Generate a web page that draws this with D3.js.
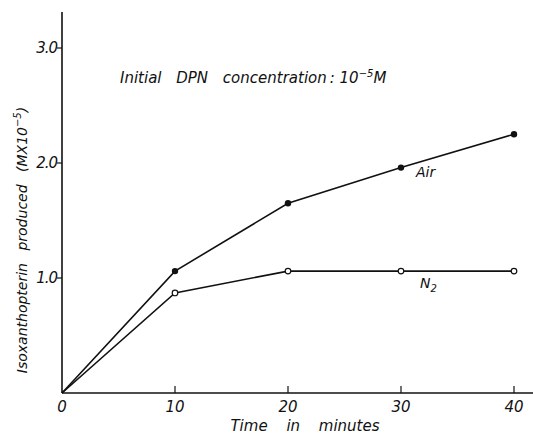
<!DOCTYPE html>
<html>
<head>
<meta charset="utf-8">
<script src="https://cdn.jsdelivr.net/npm/d3@7"></script>
<style>
  body { margin: 0; background: #fff; }
  text { font-family: "DejaVu Sans", sans-serif; font-style: italic; fill: #111; }
</style>
</head>
<body>
<svg id="chart" width="533" height="438"></svg>
<script>
// data
const times = [0, 10, 20, 30, 40];
const airValues = [0, 1.06, 1.65, 1.96, 2.25];
const n2Values = [0, 0.87, 1.06, 1.06, 1.06];
const xTicks = [0, 10, 20, 30, 40];
const yTicks = [1.0, 2.0, 3.0];

const svg = d3.select('#chart');
const x = d3.scaleLinear().domain([0, 40]).range([62, 514]);
const y = d3.scaleLinear().domain([0, 3]).range([393, 48]);

// axes lines
svg.append('line').attr('x1', 62).attr('x2', 533).attr('y1', y(0)).attr('y2', y(0))
  .attr('stroke', '#111').attr('stroke-width', 1.4);
svg.append('line').attr('x1', 62).attr('x2', 62).attr('y1', 12).attr('y2', y(0))
  .attr('stroke', '#111').attr('stroke-width', 1.6);

// x ticks (pointing up)
svg.selectAll('.xt').data(xTicks.filter(d => d > 0)).join('line')
  .attr('x1', d => x(d)).attr('x2', d => x(d))
  .attr('y1', y(0)).attr('y2', y(0) - 7)
  .attr('stroke', '#111').attr('stroke-width', 1.2);
svg.selectAll('.xl').data(xTicks).join('text')
  .attr('x', d => x(d)).attr('y', 412)
  .attr('text-anchor', 'middle').attr('font-size', 15)
  .text(d => d);

// y ticks (pointing left)
svg.selectAll('.yt').data(yTicks).join('line')
  .attr('x1', 57).attr('x2', 62)
  .attr('y1', d => y(d)).attr('y2', d => y(d))
  .attr('stroke', '#111').attr('stroke-width', 1.2);
svg.selectAll('.yl').data(yTicks).join('text')
  .attr('x', 57).attr('y', d => y(d) + 5)
  .attr('text-anchor', 'end').attr('font-size', 15)
  .attr('letter-spacing', -1)
  .text(d => d.toFixed(1));

// lines
const line = d3.line().x((d, i) => x(times[i])).y(d => y(d));
svg.append('path').datum(airValues).attr('d', line)
  .attr('fill', 'none').attr('stroke', '#111').attr('stroke-width', 1.6);
svg.append('path').datum(n2Values).attr('d', line)
  .attr('fill', 'none').attr('stroke', '#111').attr('stroke-width', 1.6);

// markers (skip origin)
svg.selectAll('.air').data(airValues.slice(1)).join('circle')
  .attr('cx', (d, i) => x(times[i + 1])).attr('cy', d => y(d)).attr('r', 3.2)
  .attr('fill', '#111');
svg.selectAll('.n2').data(n2Values.slice(1)).join('circle')
  .attr('cx', (d, i) => x(times[i + 1])).attr('cy', d => y(d)).attr('r', 2.8)
  .attr('fill', '#fff').attr('stroke', '#111').attr('stroke-width', 1.2);

// annotations
const ann = svg.append('text').attr('x', 120).attr('y', 83).attr('font-size', 15)
  .attr('word-spacing', 10);
ann.append('tspan').text('Initial DPN concentration');
ann.append('tspan').attr('dx', 3).attr('word-spacing', 0).text(': 10');
ann.append('tspan').attr('dy', -6).attr('font-size', 10).text('\u22125');
ann.append('tspan').attr('dy', 6).text('M');

svg.append('text').attr('x', 416).attr('y', 177).attr('font-size', 14).text('Air');
const n2 = svg.append('text').attr('x', 420).attr('y', 288).attr('font-size', 14);
n2.append('tspan').text('N');
n2.append('tspan').attr('dy', 4).attr('font-size', 10).text('2');

// axis titles
svg.append('text').attr('x', 305).attr('y', 431).attr('text-anchor', 'middle')
  .attr('font-size', 15).attr('word-spacing', 14).text('Time in minutes');

const yt = svg.append('text').attr('transform', 'translate(27,240) rotate(-90)')
  .attr('text-anchor', 'middle').attr('font-size', 14).attr('word-spacing', 8);
yt.append('tspan').text('Isoxanthopterin produced (MX10');
yt.append('tspan').attr('dy', -6).attr('font-size', 10).text('\u22125');
yt.append('tspan').attr('dy', 6).text(')');
</script>
</body>
</html>
